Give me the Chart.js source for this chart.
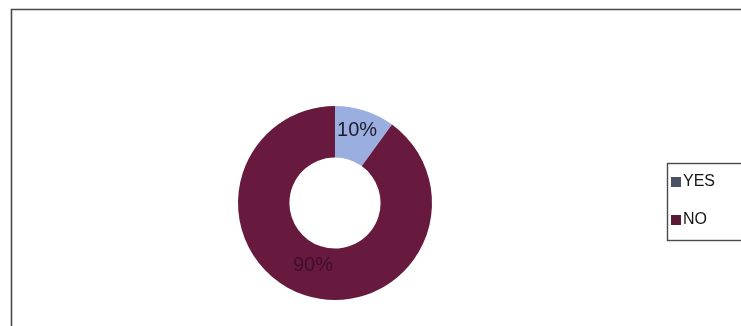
<!DOCTYPE html>
<html>
<head>
<meta charset="utf-8">
<script src="https://cdn.jsdelivr.net/npm/chart.js@4/dist/chart.umd.min.js"></script>
<style>
	body { margin: 0; background: #fff; }
	canvas { display: block; }
</style>
</head>
<body>
<canvas id="chart" width="741" height="326"></canvas>
<script>
// answers and their shares, percent
const labels = ['YES', 'NO'];
const values = [10, 90];
const colors = ['#9aafdf', '#681a3e'];
const label_colors = ['#1c1c2c', '#3e0f27'];
const swatch_colors = ['#4c5263', '#5a1a36'];

// frame round the plot area (only top and left sides fall inside the canvas)
const framePlugin = {
	id: 'frame',
	beforeDraw(chart)
	{
		let ctx = chart.ctx;
		ctx.save();
		ctx.strokeStyle = '#4a4a4e';
		ctx.lineWidth = 1.6;
		ctx.beginPath();
		ctx.moveTo(11.5, chart.height);
		ctx.lineTo(11.5, 9.5);
		ctx.lineTo(chart.width, 9.5);
		ctx.stroke();
		ctx.restore();
	}
};

// percent text on each slice, at the slice centre
const sliceLabelPlugin = {
	id: 'sliceLabels',
	afterDatasetsDraw(chart)
	{
		let ctx = chart.ctx;
		let meta = chart.getDatasetMeta(0);
		ctx.save();
		ctx.font = '20px "Liberation Sans", Arial, sans-serif';
		ctx.textAlign = 'center';
		ctx.textBaseline = 'middle';
		meta.data.forEach(function(arc, i)
		{
			let pos = arc.tooltipPosition();
			ctx.fillStyle = label_colors[i];
			ctx.fillText(values[i] + '%', pos.x, pos.y - 5);
		});
		ctx.restore();
	}
};

// boxed legend on the right
const legendPlugin = {
	id: 'boxLegend',
	afterDraw(chart)
	{
		let ctx = chart.ctx;
		ctx.save();
		ctx.strokeStyle = '#4a4a4e';
		ctx.lineWidth = 1.4;
		ctx.strokeRect(667.5, 163.5, 90, 77);
		ctx.font = '16px "Liberation Sans", Arial, sans-serif';
		ctx.textBaseline = 'middle';
		ctx.textAlign = 'left';
		labels.forEach(function(label, i)
		{
			let y = 182 + i * 38;
			ctx.fillStyle = swatch_colors[i];
			ctx.fillRect(671, y - 5, 10, 10);
			ctx.fillStyle = '#151515';
			ctx.fillText(label, 683, y);
		});
		ctx.restore();
	}
};

new Chart(document.getElementById('chart'),
	{
		type: 'doughnut',
		data:
			{
				labels: labels,
				datasets: [
					{
						data: values,
						backgroundColor: colors,
						borderWidth: 0
					}]
			},
		options:
			{
				responsive: false,
				animation: false,
				cutout: '47%',
				layout:
					{
						padding: { left: 238, right: 309, top: 106, bottom: 26 }
					},
				plugins:
					{
						legend: { display: false },
						tooltip: { enabled: false }
					}
			},
		plugins: [framePlugin, sliceLabelPlugin, legendPlugin]
	});
</script>
</body>
</html>
